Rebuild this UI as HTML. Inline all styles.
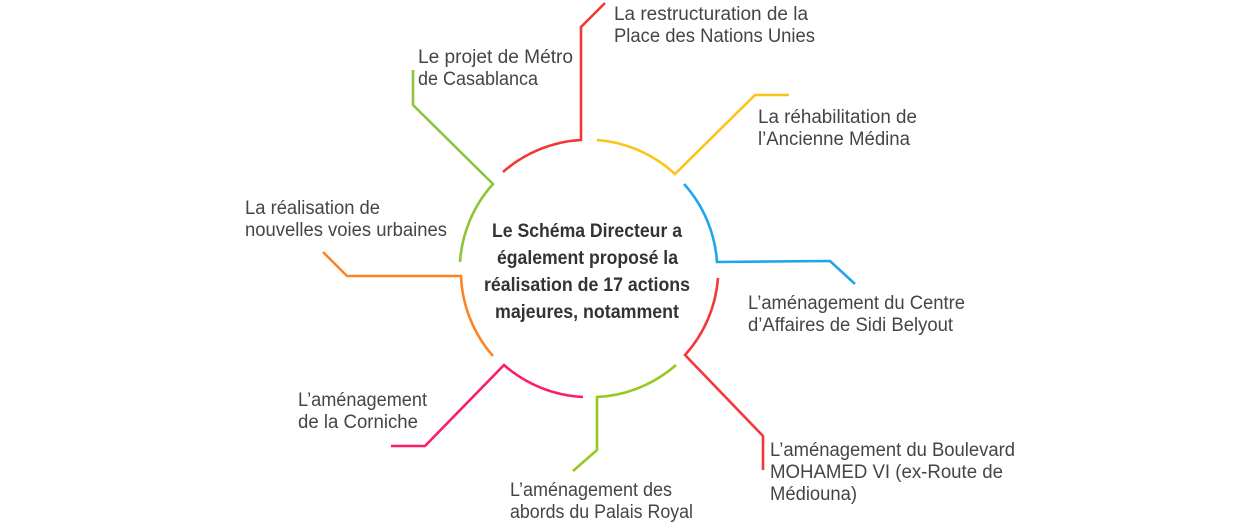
<!DOCTYPE html>
<html><head><meta charset="utf-8"><style>
html,body{margin:0;padding:0;background:#fff;}
svg{display:block;}
text{font-family:"Liberation Sans",sans-serif;font-size:19px;fill:#454545;}
.c{font-weight:bold;fill:#333;font-size:19px;}
</style></head><body>
<svg width="1249" height="522" viewBox="0 0 1249 522" xmlns="http://www.w3.org/2000/svg">
<g fill="none" stroke-width="2.6" stroke-linecap="butt">
<!-- circle center 589,268 r 129 -->
<path d="M503,172 A129,129 0 0 1 581,140 L581,27 L605,3" stroke="#f2382f"/>
<path d="M597,140 A129,129 0 0 1 675,174 L755,95 L789,95" stroke="#fcc318"/>
<path d="M684,184 A129,129 0 0 1 717,262 L830,261 L855,284" stroke="#1ea5f0"/>
<path d="M718,278 A129,129 0 0 1 685,355 L763,436 L763,470" stroke="#f2383a"/>
<path d="M676,365 A129,129 0 0 1 597,397 L597,450 L573,471" stroke="#96c91e"/>
<path d="M583,397 A129,129 0 0 1 504,365 L425,446 L391,446" stroke="#fc1c6a"/>
<path d="M493,356 A129,129 0 0 1 461,276 L347,276 L323,252" stroke="#fc8427"/>
<path d="M460,262 A129,129 0 0 1 493,184 L413,105 L413,70" stroke="#8fc43a"/>
</g>
<text x="614" y="20" textLength="194" lengthAdjust="spacingAndGlyphs">La restructuration de la</text>
<text x="614" y="42" textLength="201" lengthAdjust="spacingAndGlyphs">Place des Nations Unies</text>
<text x="418" y="63" textLength="155" lengthAdjust="spacingAndGlyphs">Le projet de Métro</text>
<text x="418" y="85" textLength="120" lengthAdjust="spacingAndGlyphs">de Casablanca</text>
<text x="758" y="123" textLength="159" lengthAdjust="spacingAndGlyphs">La réhabilitation de</text>
<text x="758" y="145" textLength="152" lengthAdjust="spacingAndGlyphs">l’Ancienne Médina</text>
<text x="245" y="214" textLength="135" lengthAdjust="spacingAndGlyphs">La réalisation de</text>
<text x="245" y="236" textLength="202" lengthAdjust="spacingAndGlyphs">nouvelles voies urbaines</text>
<text x="748" y="309" textLength="217" lengthAdjust="spacingAndGlyphs">L’aménagement du Centre</text>
<text x="748" y="331" textLength="205" lengthAdjust="spacingAndGlyphs">d’Affaires de Sidi Belyout</text>
<text x="770" y="456" textLength="245" lengthAdjust="spacingAndGlyphs">L’aménagement du Boulevard</text>
<text x="770" y="478" textLength="233" lengthAdjust="spacingAndGlyphs">MOHAMED VI (ex-Route de</text>
<text x="770" y="500" textLength="87" lengthAdjust="spacingAndGlyphs">Médiouna)</text>
<text x="298" y="406" textLength="129" lengthAdjust="spacingAndGlyphs">L’aménagement</text>
<text x="298" y="428" textLength="120" lengthAdjust="spacingAndGlyphs">de la Corniche</text>
<text x="510" y="496" textLength="162" lengthAdjust="spacingAndGlyphs">L’aménagement des</text>
<text x="510" y="518" textLength="183" lengthAdjust="spacingAndGlyphs">abords du Palais Royal</text>
<text class="c" x="492" y="237" textLength="190" lengthAdjust="spacingAndGlyphs">Le Schéma Directeur a</text>
<text class="c" x="497" y="264" textLength="181" lengthAdjust="spacingAndGlyphs">également proposé la</text>
<text class="c" x="484" y="291" textLength="206" lengthAdjust="spacingAndGlyphs">réalisation de 17 actions</text>
<text class="c" x="495" y="318" textLength="184" lengthAdjust="spacingAndGlyphs">majeures, notamment</text>
</svg>
</body></html>
